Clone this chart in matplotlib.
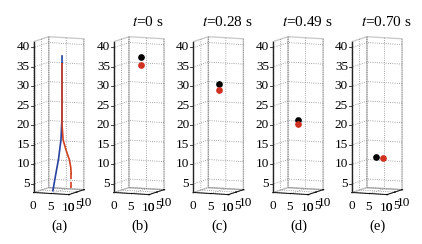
import numpy as np
import matplotlib.pyplot as plt

plt.rcParams['font.family'] = ['Liberation Serif', 'DejaVu Serif']
plt.rcParams['mathtext.fontset'] = 'stix'
plt.rcParams['grid.linestyle'] = ':'
plt.rcParams['grid.color'] = '#888888'
plt.rcParams['grid.linewidth'] = 0.6

# trajectories for panel (a)
blue_x = [3.3, 3.9, 4.9, 5.6, 5.9, 5.9, 5.9]
blue_z = [2.8, 6, 11, 16, 22, 30, 37.5]
red_x = [5.9, 5.9, 6.2, 7.2, 8.0, 8.4, 8.5]
red_z = [35.5, 20, 16, 13, 11, 9, 7.5]
red_dash_x = [8.5, 8.5]
red_dash_z = [7.5, 3.2]
traj_y = 5

# particle positions at each time
times = ['0', '0.28', '0.49', '0.70']
black_x = [5.6, 5.3, 5.0, 4.7]
black_z = [37.2, 30.2, 21.1, 11.5]
red_pt_x = [5.6, 5.3, 5.0, 6.7]
red_pt_z = [35.2, 28.7, 20.1, 11.5]
labels = ['(a)', '(b)', '(c)', '(d)', '(e)']
zticks = [5, 10, 15, 20, 25, 30, 35, 40]

AZIM = -67
ELEV = 8
ZMIN, ZMAX = 2.8, 41.5
ux, uy = np.sin(np.radians(AZIM)), -np.cos(np.radians(AZIM))  # screen-left direction

fig = plt.figure(figsize=(4.22, 2.44), dpi=100)


def setup(ax):
    ax.set_proj_type('ortho')
    ax.set_xlim(0, 10)
    ax.set_ylim(0, 10)
    ax.set_zlim(ZMIN, ZMAX)
    ax.set_box_aspect((1, 1, 4.0), zoom=1.43)
    ax.view_init(elev=ELEV, azim=AZIM)
    ax.set_xticks([0, 5, 10])
    ax.set_yticks([0, 5, 10])
    ax.set_zticks(zticks)
    ax.set_zticklabels([])
    ax.tick_params(labelsize=9.5, pad=-6)
    ax.zaxis._axinfo['tick']['inward_factor'] = 0
    ax.zaxis._axinfo['tick']['outward_factor'] = 0
    ax.zaxis.line.set_color((0, 0, 0, 0))
    for a in (ax.xaxis, ax.yaxis, ax.zaxis):
        a.pane.fill = False
        a.pane.set_edgecolor('#999999')
        a.line.set_linewidth(0.6)
    ax.set_facecolor('none')
    ax.grid(True)
    # z axis at the left corner (the 3D box is taller than the square axes patch,
    # so nothing may be clipped to it)
    ax.plot([0, 0], [0, 0], [ZMIN, ZMAX], color='#222222', lw=1.0, clip_on=False)
    for z in zticks:
        ax.plot([0, 0.8 * ux], [0, 0.8 * uy], [z, z], color='#222222', lw=0.6, clip_on=False)
        ax.text(1.1 * ux, 1.1 * uy, z, str(z), ha='right', va='center', fontsize=9.5)


w = 0.26
centers = [0.136, 0.326, 0.514, 0.703, 0.890]
for i in range(5):
    ax = fig.add_axes([centers[i] - w / 2, 0.06, w, 0.92], projection='3d')
    ax.computed_zorder = False
    setup(ax)
    if i == 0:
        ax.plot(blue_x, [traj_y] * len(blue_x), blue_z, color='#2840a0', lw=1.2, clip_on=False)
        ax.plot(red_x, [traj_y] * len(red_x), red_z, color='#d04020', lw=1.2, clip_on=False)
        ax.plot(red_dash_x, [traj_y] * 2, red_dash_z, color='#d04020', lw=1.2, ls='--', clip_on=False)
    else:
        k = i - 1
        ax.plot([black_x[k]], [traj_y], [black_z[k]], 'o', color='black', ms=3.8, zorder=5, clip_on=False)
        ax.plot([red_pt_x[k]], [traj_y], [red_pt_z[k]], 'o', color='#d03020', ms=3.8, zorder=5, clip_on=False)
        fig.text(centers[i] + 0.025, 0.91, '$t$=' + times[k] + ' s', ha='center', va='center', fontsize=11)
    fig.text(centers[i] + 0.005, 0.074, labels[i], ha='center', va='center', fontsize=10.5)

fig.savefig('out.png', dpi=100)
